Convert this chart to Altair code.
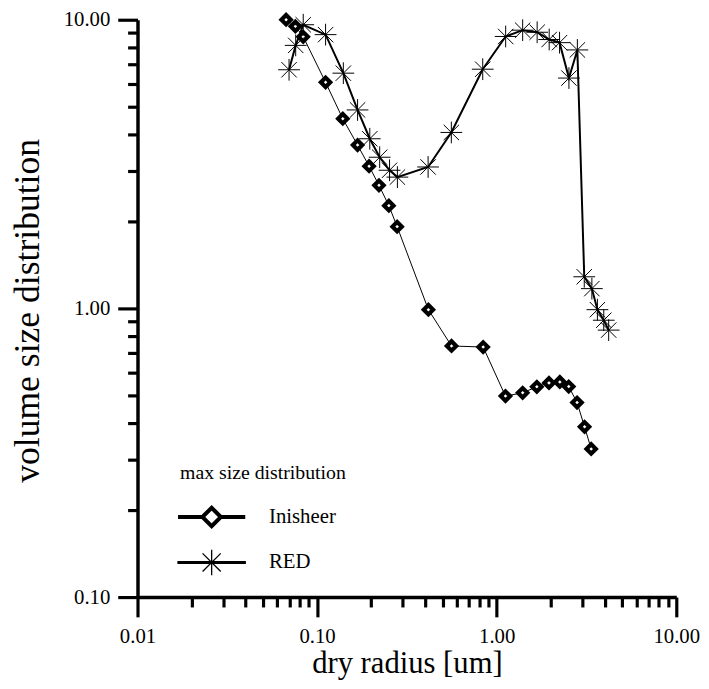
import altair as alt
import pandas as pd

FONT = "Liberation Serif"

# ---- data ----
series_names = ["Inisheer", "RED"]

ini_x = [0.0672, 0.0757, 0.0837, 0.1115, 0.139, 0.168, 0.1948, 0.2211, 0.2509, 0.279,
         0.4166, 0.5604, 0.8406, 1.119, 1.395, 1.673, 1.955, 2.247, 2.518, 2.802,
         3.085, 3.358]
ini_y = [10.0, 9.49, 8.73, 6.07, 4.54, 3.68, 3.11, 2.67, 2.27, 1.92,
         0.99, 0.741, 0.735, 0.497, 0.510, 0.535, 0.552, 0.556, 0.536, 0.472,
         0.389, 0.326]

red_x = [0.0698, 0.076, 0.0837, 0.1115, 0.140, 0.168, 0.1965, 0.2231, 0.2532, 0.280,
         0.415, 0.559, 0.836, 1.122, 1.395, 1.680, 1.960, 2.239, 2.525, 2.813,
         3.073, 3.388, 3.638, 3.947, 4.203]
red_y = [6.71, 8.15, 9.61, 8.88, 6.53, 4.87, 3.87, 3.34, 3.01, 2.85,
         3.09, 4.07, 6.74, 8.75, 9.20, 9.05, 8.54, 8.33, 6.28, 7.86,
         1.287, 1.171, 0.990, 0.910, 0.841]

x_major = [0.01, 0.1, 1, 10]
x_minor = [0.02, 0.03, 0.04, 0.05, 0.06, 0.07, 0.08, 0.09,
           0.2, 0.3, 0.4, 0.5, 0.6, 0.7, 0.8, 0.9,
           2, 3, 4, 5, 6, 7, 8, 9]
y_major = [0.1, 1, 10]
y_minor = [0.2, 0.3, 0.4, 0.5, 0.6, 0.7, 0.8, 0.9,
           2, 3, 4, 5, 6, 7, 8, 9]

ini_df = pd.DataFrame({"x": ini_x, "y": ini_y, "i": range(len(ini_x))})
red_df = pd.DataFrame({"x": red_x, "y": red_y, "i": range(len(red_x))})
leg_df = pd.DataFrame({"series": series_names})

x_scale = alt.Scale(type="log", domain=[0.01, 10], nice=False)
y_scale = alt.Scale(type="log", domain=[0.1, 10], nice=False)

major_style = dict(
    grid=False, tickSize=20, tickWidth=3.2, tickColor="black",
    domainWidth=3.5, domainColor="black",
    format=".2f", labelFont=FONT, labelFontSize=21, labelColor="black",
    labelFlush=False, labelOverlap=False,
    titleFont=FONT, titleFontWeight="normal", titleColor="black",
)
minor_style = dict(
    grid=False, tickSize=10, tickWidth=3.2, tickColor="black",
    domain=False, labels=False, title="",
)

x_major_axis = alt.Axis(values=x_major, orient="bottom", labelPadding=9,
                        title="dry radius [um]", titleFontSize=31, titleY=76,
                        titleBaseline="alphabetic", **major_style)
y_major_axis = alt.Axis(values=y_major, orient="left", labelPadding=8,
                        title="volume size distribution", titleFontSize=36,
                        titleX=-100, titleY=294,
                        titleAngle=270, titleAlign="center",
                        titleBaseline="alphabetic", **major_style)
x_minor_axis = alt.Axis(values=x_minor, orient="bottom", **minor_style)
y_minor_axis = alt.Axis(values=y_minor, orient="left", **minor_style)

STAR = ("M-1,0L1,0M0,-1L0,1M-0.7071,-0.7071L0.7071,0.7071"
        "M-0.7071,0.7071L0.7071,-0.7071")

ini_line = alt.Chart(ini_df).mark_line(color="black", strokeWidth=1).encode(
    x=alt.X("x:Q", scale=x_scale, axis=x_major_axis),
    y=alt.Y("y:Q", scale=y_scale, axis=y_major_axis),
    order="i:O")
red_line = alt.Chart(red_df).mark_line(color="black", strokeWidth=2).encode(
    x=alt.X("x:Q", scale=x_scale, axis=x_minor_axis),
    y=alt.Y("y:Q", scale=y_scale, axis=y_minor_axis),
    order="i:O")

XN = alt.X("x:Q", scale=x_scale, axis=None)
YN = alt.Y("y:Q", scale=y_scale, axis=None)

ini_pts = alt.Chart(ini_df).mark_point(
    shape="diamond", size=90, filled=True, fill="white", stroke="black",
    strokeWidth=4.2, opacity=1).encode(x=XN, y=YN)
red_pts = alt.Chart(red_df).mark_point(
    shape=STAR, size=484, filled=False, stroke="black", strokeWidth=1,
    opacity=1).encode(x=XN, y=YN)

# legend symbols: marker with a line sample through it (unit coords, r = 13px)
DIA_LEG = "M-2.615,0L-0.72,0M0.72,0L2.615,0M-0.72,0L0,-0.72L0.72,0L0,0.72Z"
STAR_LEG = ("M-2.615,-0.06L2.615,-0.06L2.615,0.06L-2.615,0.06Z" + STAR)

leg = alt.Legend(title="max size distribution", orient="none", legendX=43,
                 legendY=449, symbolSize=676, symbolOffset=17, labelOffset=43,
                 rowPadding=12, titlePadding=19, padding=0,
                 labelFont=FONT, labelFontSize=21, labelColor="black",
                 titleFont=FONT, titleFontSize=20, titleFontWeight="normal",
                 titleColor="black", symbolStrokeColor="black")

legend_layer = alt.Chart(leg_df).mark_point(
    filled=True, stroke="black", opacity=1).encode(
    shape=alt.Shape("series:N", scale=alt.Scale(domain=series_names,
                                                 range=[DIA_LEG, STAR_LEG]),
                    legend=leg),
    fill=alt.Fill("series:N", scale=alt.Scale(domain=series_names,
                                               range=["white", "black"]),
                  legend=leg),
    stroke=alt.Stroke("series:N", scale=alt.Scale(domain=series_names,
                                                   range=["black", "black"]),
                      legend=leg),
    strokeWidth=alt.StrokeWidth("series:N", scale=alt.Scale(domain=series_names,
                                                             range=[4, 1.3]),
                                legend=leg),
).transform_filter("false")

chart = alt.layer(ini_line, red_line, ini_pts, red_pts, legend_layer).resolve_axis(
    x="independent", y="independent"
).properties(
    width=545, height=584,
    autosize=alt.AutoSizeParams(type="none"),
    padding={"left": 131, "top": 8, "right": 25, "bottom": 80},
).configure_view(strokeWidth=0)

chart.save("out.html", embed_options={"renderer": "svg", "actions": False})
